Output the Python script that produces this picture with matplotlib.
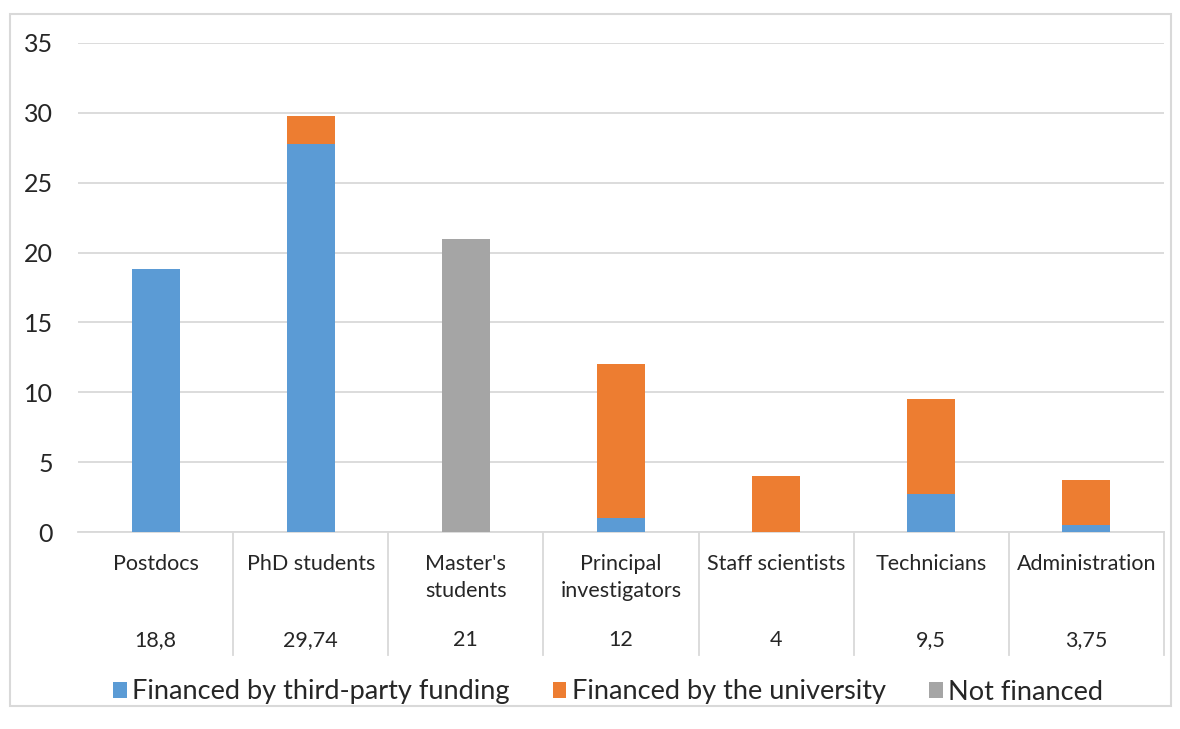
import matplotlib
matplotlib.use("Agg")
import matplotlib.pyplot as plt
from matplotlib.patches import Rectangle
import numpy as np

plt.rcParams['font.family'] = ['Lato', 'DejaVu Sans']

categories = ["Postdocs", "PhD students", "Master's\nstudents", "Principal\ninvestigators",
              "Staff scientists", "Technicians", "Administration"]
third_party = [18.8, 27.74, 0, 1.0, 0, 2.75, 0.5]
university = [0, 2.0, 0, 11.0, 4.0, 6.75, 3.25]
not_financed = [0, 0, 21.0, 0, 0, 0, 0]
totals = ["18,8", "29,74", "21", "12", "4", "9,5", "3,75"]

c_blue = "#5B9BD5"
c_orange = "#ED7D31"
c_gray = "#A5A5A5"
grid_c = "#D9D9D9"
txt_c = "#262626"

fig = plt.figure(figsize=(11.8, 7.29), dpi=100)
# outer chart border
fig.patches.append(Rectangle((10/1180, 1-706/729), 1161/1180, 692/729, transform=fig.transFigure,
                             fill=False, edgecolor=grid_c, lw=1.5))

ax = fig.add_axes([78/1180, 1-532/729, 1086/1180, 489/729])
x = np.arange(len(categories))
w = 0.31
b1 = np.array(third_party)
b2 = b1 + np.array(university)
ax.bar(x, third_party, w, color=c_blue, label="Financed by third-party funding", zorder=3)
ax.bar(x, university, w, bottom=b1, color=c_orange, label="Financed by the university", zorder=3)
ax.bar(x, not_financed, w, bottom=b2, color=c_gray, label="Not financed", zorder=3)

ax.set_xlim(-0.5, len(categories) - 0.5)
ax.set_ylim(0, 35)
ax.set_yticks(range(0, 36, 5))
ax.set_xticks([])
ax.yaxis.grid(True, color=grid_c, lw=1.3, zorder=0)
for s in ax.spines.values():
    s.set_visible(False)
ax.tick_params(axis='y', length=0, pad=18, labelsize=18, labelcolor=txt_c)

# data table under the axis
tr = ax.get_xaxis_transform()
ax.plot([-0.5, len(categories) - 0.5], [0, 0], color=grid_c, lw=1.3, transform=tr, clip_on=False, zorder=2)
for b in np.arange(0.5, len(categories), 1.0):
    ax.plot([b, b], [0, -0.2515], color=grid_c, lw=1.3, transform=tr, clip_on=False)
for i, (c, t) in enumerate(zip(categories, totals)):
    ax.text(i, -0.045, c, transform=tr, ha='center', va='top', fontsize=15.5,
            color=txt_c, linespacing=1.45, multialignment='center')
    ax.text(i, -0.221, t, transform=tr, ha='center', va='center', fontsize=15.5, color=txt_c)

fig.legend(loc='center', bbox_to_anchor=(608/1180, 1-692/729), ncol=3, frameon=False,
           fontsize=19.5, handlelength=0.5, handleheight=0.5, handletextpad=0.2,
           columnspacing=1.6, labelcolor=txt_c)

fig.savefig("out.png", dpi=100)
